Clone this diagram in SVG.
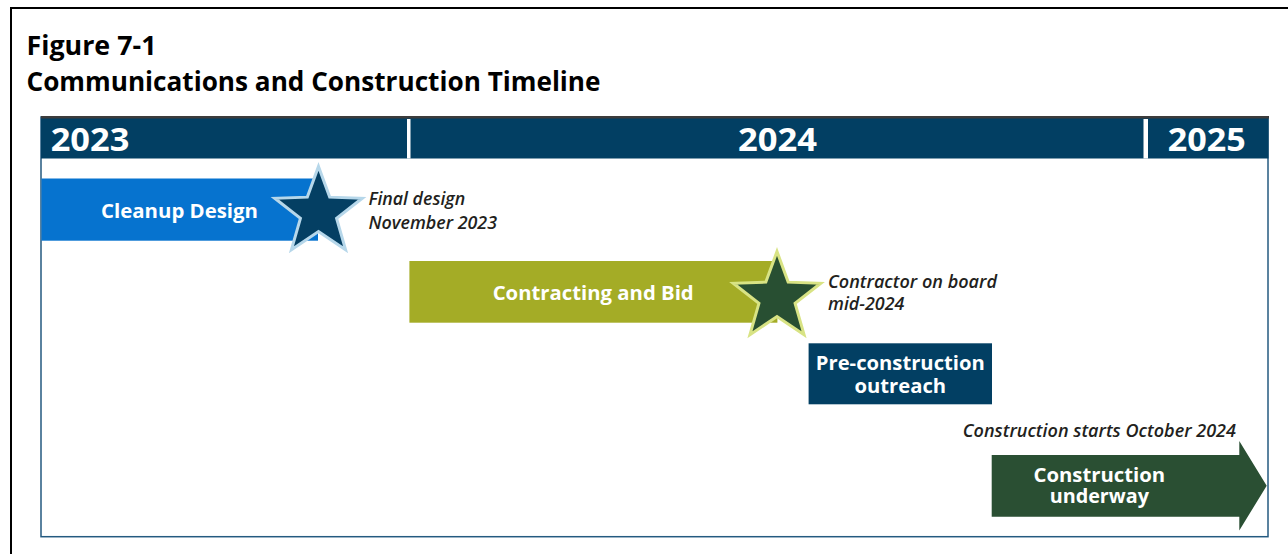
<svg xmlns="http://www.w3.org/2000/svg" width="1288" height="554" viewBox="0 0 1288 554">
  <style>
    .title { font-family: "Open Sans", "Liberation Sans", sans-serif; font-weight: 700; font-size: 26px; fill: #000; }
    .year { font-family: "Open Sans", "Liberation Sans", sans-serif; font-weight: 700; font-size: 32.5px; fill: #fff; }
    .lbl { font-family: "Open Sans", "Liberation Sans", sans-serif; font-weight: 700; font-size: 20px; fill: #fff; }
    .note { font-family: "Open Sans", "Liberation Sans", sans-serif; font-style: italic; font-weight: 600; font-size: 17.3px; fill: #231f20; }
    .navy { fill: #023f63; }
  </style>
  <defs>
    <polygon id="star" points="0,-46 11.17,-15.37 43.75,-14.21 18.07,5.87 27.04,37.21 0,19 -27.04,37.21 -18.07,5.87 -43.75,-14.21 -11.17,-15.37"/>
  </defs>
  <rect x="0" y="0" width="1288" height="554" fill="#fff"/>
  <!-- outer border -->
  <path d="M11,554 V8 H1288" fill="none" stroke="#000" stroke-width="2"/>

  <g id="title">
    <text class="title" x="26.5" y="54.5" textLength="130" lengthAdjust="spacingAndGlyphs">Figure 7-1</text>
    <text class="title" x="26.5" y="90.5" textLength="574" lengthAdjust="spacingAndGlyphs">Communications and Construction Timeline</text>
  </g>

  <g id="frame">
    <rect x="41" y="117" width="1227" height="419.7" fill="#fff" stroke="#245a80" stroke-width="1.5"/>
    <rect class="navy" x="41" y="117" width="1227.5" height="41.5"/>
    <rect x="41" y="116" width="1228" height="2.5" fill="#3c3c3c"/>
    <rect x="407" y="119" width="3.5" height="39.5" fill="#fff"/>
    <rect x="1143.5" y="119" width="4.5" height="39.5" fill="#fff"/>
  </g>

  <g id="year-2023"><text class="year" x="50.7" y="150.7" textLength="78.6" lengthAdjust="spacingAndGlyphs">2023</text></g>
  <g id="year-2024"><text class="year" x="738" y="150.7" textLength="79" lengthAdjust="spacingAndGlyphs">2024</text></g>
  <g id="year-2025"><text class="year" x="1167.7" y="150.7" textLength="78" lengthAdjust="spacingAndGlyphs">2025</text></g>

  <g id="connectors"/>

  <g id="cleanup-design">
    <rect x="41.5" y="178.5" width="276.5" height="62.2" fill="#0673cf"/>
    <text class="lbl" x="101" y="218.3" textLength="157" lengthAdjust="spacingAndGlyphs">Cleanup Design</text>
  </g>

  <g id="final-design-star">
    <use href="#star" transform="translate(318.5,212.5)" fill="#043f63" stroke="#b6d7ea" stroke-width="3" stroke-linejoin="miter"/>
  </g>

  <g id="final-design-note">
    <text class="note" x="368.5" y="205.3" textLength="96.7" lengthAdjust="spacingAndGlyphs">Final design</text>
    <text class="note" x="368.5" y="228.5" textLength="128.5" lengthAdjust="spacingAndGlyphs">November 2023</text>
  </g>

  <g id="contracting-and-bid">
    <rect x="409.4" y="261" width="368" height="61.7" fill="#a4ac26"/>
    <text class="lbl" x="492.7" y="300" textLength="201" lengthAdjust="spacingAndGlyphs">Contracting and Bid</text>
  </g>

  <g id="contractor-star">
    <use href="#star" transform="translate(777,297.5)" fill="#284f32" stroke="#d8e384" stroke-width="3" stroke-linejoin="miter"/>
  </g>

  <g id="contractor-note">
    <text class="note" x="828" y="287.7" textLength="169" lengthAdjust="spacingAndGlyphs">Contractor on board</text>
    <text class="note" x="828" y="310" textLength="76.4" lengthAdjust="spacingAndGlyphs">mid-2024</text>
  </g>

  <g id="pre-construction-outreach">
    <rect class="navy" x="808.6" y="343.3" width="183.4" height="61"/>
    <text class="lbl" x="900.3" y="370" text-anchor="middle" textLength="169" lengthAdjust="spacingAndGlyphs">Pre-construction</text>
    <text class="lbl" x="900.3" y="393.3" text-anchor="middle" textLength="91.7" lengthAdjust="spacingAndGlyphs">outreach</text>
  </g>

  <g id="construction-note">
    <text class="note" x="962.7" y="436.5" textLength="273.3" lengthAdjust="spacingAndGlyphs">Construction starts October 2024</text>
  </g>

  <g id="construction-underway">
    <polygon points="991.7,455 1239.3,455 1239.3,441 1266.7,485.7 1239.3,530.5 1239.3,516.7 991.7,516.7" fill="#2a4f33"/>
    <text class="lbl" x="1099.3" y="481.7" text-anchor="middle" textLength="131.7" lengthAdjust="spacingAndGlyphs">Construction</text>
    <text class="lbl" x="1099.3" y="503" text-anchor="middle" textLength="99.3" lengthAdjust="spacingAndGlyphs">underway</text>
  </g>
</svg>
